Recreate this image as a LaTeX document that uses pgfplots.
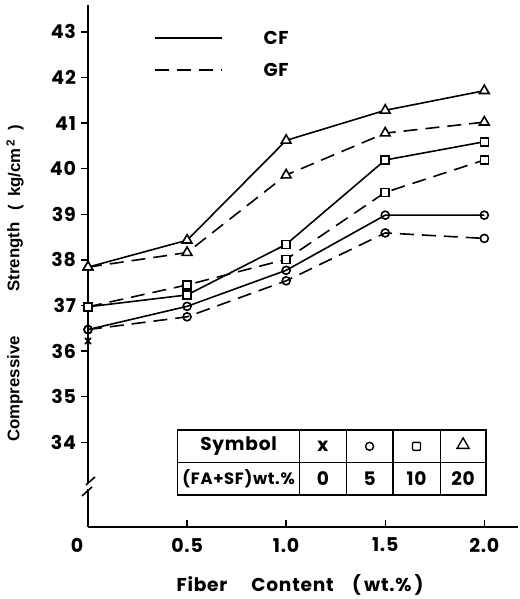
\documentclass[border=0pt]{standalone}
\usepackage{fontspec}
\setmainfont[LetterSpace=4]{Poppins}
\newfontfamily\labfont{Liberation Sans}
\usepackage{pgfplots}
\pgfplotsset{compat=1.18}
\usetikzlibrary{shapes.geometric}

% compressive strength vs fiber content
\pgfplotstableread{
x   cfo    gfo    cfs    gfs    cft    gft
0   36.47  36.47  36.97  36.97  37.84  37.84
0.5 36.98  36.75  37.23  37.45  38.43  38.16
1.0 37.77  37.54  38.34  38.01  40.62  39.86
1.5 38.98  38.59  40.19  39.48  41.28  40.78
2.0 38.98  38.47  40.59  40.19  41.71  41.02
}\strength

\begin{document}
\begin{tikzpicture}[font=\fontsize{9.3}{11}\selectfont\bfseries,
    ylab/.style={xshift=-36.5pt, rotate=90, anchor=west, inner sep=0pt,
      font=\labfont\fontsize{8.4}{10}\selectfont\bfseries}]
\begin{axis}[
    name=ax,
    scale only axis,
    width=215pt, height=261pt,
    xmin=0, xmax=2.17,
    ymin=32.14, ymax=43.59,
    axis lines=left,
    axis line style={-, line width=0.8pt},
    xtick={0,0.5,1,1.5,2},
    xticklabels={\makebox[0pt]{\hspace*{-11pt}0},0.5,1.0,1.5,2.0},
    ytick={34,35,...,43},
    xtick align=inside,
    ytick align=outside,
    major tick length=3.5pt,
    tick style={line width=0.7pt, black},
    /pgf/number format/assume math mode=true,
    tick label style={font=\fontsize{9.5}{11}\selectfont\bfseries},
    xticklabel style={yshift=-2pt},
    yticklabel style={xshift=1pt},
    clip=false,
    every axis plot/.append style={line width=0.8pt, black},
    mark options={solid, fill=white},
    gf/.style={dash pattern=on 7pt off 4pt},
]

\addplot[mark=o, mark size=2pt] table[x=x, y=cfo] {\strength};
\addplot[gf, mark=o, mark size=2pt] table[x=x, y=gfo] {\strength};
\addplot[mark=square*, mark size=2pt] table[x=x, y=cfs] {\strength};
\addplot[gf, mark=square*, mark size=2pt] table[x=x, y=gfs] {\strength};
\addplot[mark=triangle*, mark size=2.8pt] table[x=x, y=cft] {\strength};
\addplot[gf, mark=triangle*, mark size=2.8pt] table[x=x, y=gft] {\strength};
\addplot[only marks, mark=x, mark size=2.2pt] coordinates {(0,36.22)};

% axis break
\fill[white] (axis cs:0,33.04) ++(-3pt,-1.6pt) rectangle ++(6pt,3.2pt);
\draw[line width=0.8pt] (axis cs:0,33.04) ++(-3pt,-5pt) -- ++(5pt,4.5pt);
\draw[line width=0.8pt] (axis cs:0,33.04) ++(-1pt,0.5pt) -- ++(4.5pt,4pt);

% legend
\draw[line width=0.8pt] (axis cs:0.338,42.86) -- (axis cs:0.677,42.86);
\draw[line width=0.8pt, dash pattern=on 7pt off 4pt] (axis cs:0.338,42.16) -- (axis cs:0.677,42.16);
\node[anchor=west] at (axis cs:0.85,42.86) {CF};
\node[anchor=west] at (axis cs:0.85,42.16) {GF};

% symbol table
\draw[line width=0.8pt] (axis cs:0.452,32.84) rectangle (axis cs:2.008,34.27);
\draw[line width=0.7pt] (axis cs:0.452,33.55) -- (axis cs:2.008,33.55);
\draw[line width=0.7pt] (axis cs:1.067,32.84) -- (axis cs:1.067,34.27);
\draw[line width=0.7pt] (axis cs:1.303,32.84) -- (axis cs:1.303,34.27);
\draw[line width=0.7pt] (axis cs:1.539,32.84) -- (axis cs:1.539,34.27);
\draw[line width=0.7pt] (axis cs:1.778,32.84) -- (axis cs:1.778,34.27);
\node at (axis cs:0.76,33.91) {Symbol};
\node[inner sep=0pt] at (axis cs:0.76,33.195) {\fontsize{8.2}{9}\selectfont(FA+SF)wt.\%};
\node at (axis cs:1.185,33.91) {x};
\node[circle, draw, line width=0.7pt, inner sep=0pt, minimum size=4pt] at (axis cs:1.421,33.91) {};
\node[rectangle, draw, line width=0.7pt, rounded corners=0.5pt, inner sep=0pt, minimum size=4pt] at (axis cs:1.658,33.91) {};
\node[regular polygon, regular polygon sides=3, draw, line width=0.7pt, inner sep=0pt, minimum size=7pt] at (axis cs:1.893,33.94) {};
\node at (axis cs:1.185,33.195) {0};
\node at (axis cs:1.421,33.195) {5};
\node at (axis cs:1.658,33.195) {10};
\node at (axis cs:1.893,33.195) {20};

% axis titles
\node[ylab] at (axis cs:0,34.0) {Compressive};
\node[ylab] at (axis cs:0,37.3) {Strength};
\node[ylab] at (axis cs:0,39.07)
  {(\hspace{0.5em}kg/cm\textsuperscript{\,2}\hspace{0.5em})};
\node[yshift=-29pt] at (axis cs:1.07,32.14)
  {Fiber\hspace{1.3em}Content\hspace{1em}(\,wt.\%\,)};
\end{axis}
\pgfresetboundingbox
\path (ax.south west) ++(-44pt,-36pt) rectangle ++(259.5pt,299.5pt);
\end{tikzpicture}
\end{document}
